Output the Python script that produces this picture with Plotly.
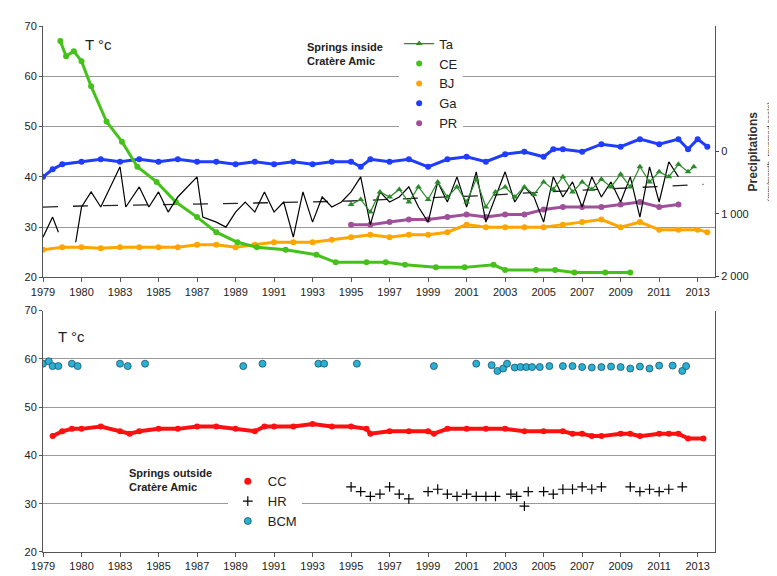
import plotly.graph_objects as go

tick_vals = [1979 + 2 * i for i in range(18)]
tick_text = ["1979", "1980", "1983", "1985", "1987", "1989", "1991", "1993", "1995", "1997",
             "1999", "2001", "2003", "2005", "2007", "2009", "2011", "2013"]

ce_x = [1979.9, 1980.2, 1980.6, 1981.0, 1981.5, 1982.3, 1983.1, 1983.9, 1984.9, 1985.9, 1987.0, 1988.0,
        1989.1, 1990.1, 1991.6, 1993.2, 1994.2, 1995.8, 1996.8, 1997.8, 1999.4, 2000.9, 2002.4,
        2003.0, 2004.6, 2005.6, 2006.6, 2008.2, 2009.5]
ce_y = [67, 64, 65, 63, 58, 51, 47, 42, 39, 35, 32, 29, 27, 26, 25.5, 24.5, 23, 23, 23, 22.5, 22, 22,
        22.5, 21.5, 21.5, 21.5, 21, 21, 21]

ga_x = [1979, 1979.5, 1980, 1981, 1982, 1983, 1984, 1985, 1986, 1987, 1988, 1989, 1990, 1991, 1992,
        1993, 1994, 1995, 1995.5, 1996, 1997, 1998, 1999, 2000, 2001, 2002, 2003, 2004, 2005, 2005.5,
        2006, 2007, 2008, 2009, 2010, 2011, 2012, 2012.5, 2013, 2013.5]
ga_y = [40, 41.5, 42.5, 43, 43.5, 43, 43.5, 43, 43.5, 43, 43, 42.5, 43, 42.5, 43, 42.5, 43, 43, 42,
        43.5, 43, 43.5, 42, 43.5, 44, 43, 44.5, 45, 44, 45.5, 45.5, 45, 46.5, 46, 47.5, 46.5, 47.5,
        45.5, 47.5, 46]

bj_x = [1979, 1980, 1981, 1982, 1983, 1984, 1985, 1986, 1987, 1988, 1989, 1990, 1991, 1992, 1993,
        1994, 1995, 1996, 1997, 1998, 1999, 2000, 2001, 2002, 2003, 2004, 2005, 2006, 2007, 2008,
        2009, 2010, 2011, 2012, 2013, 2013.5]
bj_y = [25.5, 26, 26, 25.8, 26, 26, 26, 26, 26.5, 26.5, 26, 26.5, 27, 27, 27, 27.5, 28, 28.5, 28,
        28.5, 28.5, 29, 30.5, 30, 30, 30, 30, 30.5, 31, 31.5, 30, 31, 29.5, 29.5, 29.5, 29]

pr_x = [1995, 1996, 1997, 1998, 1999, 2000, 2001, 2002, 2003, 2004, 2005, 2006, 2007, 2008, 2009,
        2010, 2011, 2012]
pr_y = [30.5, 30.5, 31, 31.5, 31.5, 32, 32.5, 32, 32.5, 32.5, 33.5, 34, 34, 34, 34.5, 35, 34, 34.5]

ta_x = [1995, 1995.5, 1996, 1996.5, 1997, 1997.5, 1998, 1998.5, 1999, 1999.5, 2000, 2000.5, 2001,
        2001.5, 2002, 2002.5, 2003, 2003.5, 2004, 2004.5, 2005, 2005.5, 2006, 2006.5, 2007, 2007.5,
        2008, 2008.5, 2009, 2009.5, 2010, 2010.5, 2011, 2011.5, 2012, 2012.5, 2012.8]
ta_y = [34.5, 35.5, 33, 37, 36, 37.5, 35, 38, 35.5, 39, 36, 38, 35, 39.5, 34, 37, 38, 36, 38, 36.5,
        39, 37.5, 40, 37, 39, 37.5, 39.5, 38, 40.5, 38, 42, 39, 41, 40, 42.5, 41, 42]

pl_x = [1979, 1979.5, 1979.8, None, 1980.7, 1981, 1981.5, 1982, 1983, 1983.3, 1984, 1984.5, 1985,
        1985.5, 1986, 1987, 1987.3, 1988, 1988.5, 1989, 1989.5, 1990, 1990.5, 1991, 1991.5, 1992,
        1992.5, 1993, 1993.5, 1994, 1994.5, 1995, 1995.5, 1996, 1996.5, 1997, 1997.5, 1998, 1998.5,
        1999, 1999.5, 2000, 2000.5, 2001, 2001.5, 2002, 2002.5, 2003, 2003.5, 2004, 2004.5, 2005,
        2005.5, 2006, 2006.5, 2007, 2007.5, 2008, 2008.5, 2009, 2009.5, 2010, 2010.5, 2011, 2011.5, 2012]
pl_y = [28, 32, 29, None, 27, 34, 37, 34, 42, 34, 38, 34, 37, 33, 36, 40, 32, 31, 30, 33, 35, 33, 37,
        33, 35, 28, 37, 31, 36, 34, 35, 37, 40, 30.5, 37, 35, 36, 38, 34, 31, 39, 35, 40, 34, 41, 31,
        36, 41, 35, 38, 36, 31, 40, 36, 39, 34, 40, 36, 39, 35, 40, 32, 42, 35, 43, 40]

tr_x = [1979, 1981, 1990, 1995, 2000, 2002, 2005, 2008, 2011, 2013.3]
tr_y = [34, 34.2, 34.8, 35.2, 36, 36.3, 37, 37.5, 38, 38.5]

bcm_x = [1979, 1979.3, 1979.5, 1979.8, 1980.5, 1980.8, 1983, 1983.4, 1984.3, 1989.4, 1990.4, 1993.3,
         1993.6, 1995.3, 1999.3, 2001.5, 2002.3, 2002.6, 2002.9, 2003.1, 2003.5, 2003.8, 2004.1,
         2004.4, 2004.8, 2005.3, 2006, 2006.5, 2007, 2007.5, 2008, 2008.5, 2009, 2009.5, 2010,
         2010.5, 2011, 2011.7, 2012.2, 2012.4]
bcm_y = [59, 59.5, 58.5, 58.5, 59, 58.5, 59, 58.5, 59, 58.5, 59, 59, 59, 59, 58.5, 59, 58.7, 57.5,
         58, 59, 58.2, 58.3, 58.3, 58.3, 58.3, 58.5, 58.5, 58.5, 58.3, 58.2, 58.3, 58.4, 58.3, 58,
         58.4, 58, 58.6, 58.6, 57.5, 58.5]

cc_x = [1979.5, 1980, 1980.5, 1981, 1982, 1983, 1983.5, 1984, 1985, 1986, 1987, 1988, 1989, 1990,
        1990.5, 1991, 1992, 1993, 1994, 1995, 1995.8, 1996, 1997, 1998, 1999, 1999.3, 2000, 2001,
        2002, 2003, 2004, 2005, 2006, 2006.5, 2007, 2007.5, 2008, 2009, 2009.5, 2010, 2011, 2011.5,
        2012, 2012.5, 2013.3]
cc_y = [44, 45, 45.5, 45.5, 46, 45, 44.5, 45, 45.5, 45.5, 46, 46, 45.5, 45, 46, 46, 46, 46.5, 46, 46,
        45.5, 44.5, 45, 45, 45, 44.5, 45.5, 45.5, 45.5, 45.5, 45, 45, 45, 44.5, 44.5, 44, 44, 44.5,
        44.5, 44, 44.5, 44.5, 44.5, 43.5, 43.5]

hr_x = [1995.0, 1995.5, 1996, 1996.5, 1997, 1997.5, 1998, 1999, 1999.5, 2000, 2000.5, 2001, 2001.5,
        2002, 2002.5, 2003.3, 2003.6, 2004, 2004.2, 2005, 2005.5, 2006, 2006.5, 2007, 2007.5, 2008,
        2009.5, 2010, 2010.5, 2011, 2011.5, 2012.2]
hr_y = [33.5, 32.5, 31.5, 32, 33.5, 32, 31, 32.5, 33, 32, 31.5, 32, 31.5, 31.5, 31.5, 32, 31.5, 29.5,
        32.5, 32.5, 32, 33, 33, 33.5, 33, 33.5, 33.5, 32.5, 33, 32.5, 33, 33.5]

F = "Liberation Sans Narrow, Liberation Sans, Arial"
fig = go.Figure()

def band(x, y, color, lw=3, ax="x", ay="y"):
    fig.add_trace(go.Scatter(x=x, y=y, mode="lines+markers", showlegend=False,
                             xaxis=ax, yaxis=ay, line=dict(color=color, width=lw),
                             marker=dict(color=color, size=6)))

fig.add_trace(go.Scatter(x=tr_x, y=tr_y, mode="lines", line=dict(color="#222", width=1.3, dash="longdash"),
                         showlegend=False))
band(ga_x, ga_y, "#1f3cff")
band(bj_x, bj_y, "#ffa500")
band(pr_x, pr_y, "#a0509a")
band(ce_x, ce_y, "#44c21a")
fig.add_trace(go.Scatter(x=pl_x, y=pl_y, mode="lines", line=dict(color="black", width=1.2),
                         showlegend=False))
fig.add_trace(go.Scatter(x=ta_x, y=ta_y, mode="lines+markers", name="Ta", legend="legend",
                         line=dict(color="#2a8a2a", width=1.2),
                         marker=dict(color="#2a8a2a", size=6, symbol="triangle-up")))
for nm, col in [("CE", "#44c21a"), ("BJ", "#ffa500"), ("Ga", "#1f3cff"), ("PR", "#a0509a")]:
    fig.add_trace(go.Scatter(x=[None], y=[None], mode="markers", name=nm, legend="legend",
                             marker=dict(color=col, size=6)))
fig.add_trace(go.Scatter(x=[None], y=[None], yaxis="y3", showlegend=False))

band(cc_x, cc_y, "#ff1010", lw=4, ax="x2", ay="y2")
fig.add_trace(go.Scatter(x=[None], y=[None], mode="markers", name="CC", legend="legend2",
                         xaxis="x2", yaxis="y2", marker=dict(color="#ff1010", size=7)))
fig.add_trace(go.Scatter(x=hr_x, y=hr_y, mode="markers", name="HR", legend="legend2",
                         xaxis="x2", yaxis="y2", marker=dict(color="black", size=7, symbol="cross-thin",
                                                             line=dict(color="black", width=1.2))))
fig.add_trace(go.Scatter(x=bcm_x, y=bcm_y, mode="markers", name="BCM", legend="legend2",
                         xaxis="x2", yaxis="y2", marker=dict(color="#2ab0d0", size=7,
                                                             line=dict(color="#1a5070", width=0.8))))

ax_common = dict(range=[1979, 2013.9], tickvals=tick_vals, ticktext=tick_text, showgrid=False,
                 showline=True, linecolor="#555", ticks="outside", ticklen=4, tickcolor="#555",
                 tickfont=dict(size=11, family=F, color="#222"), zeroline=False)
ay_common = dict(range=[20, 70], dtick=10, showgrid=True, gridcolor="#999", gridwidth=1,
                 showline=True, linecolor="#555", ticks="outside", ticklen=3, tickcolor="#555",
                 tickfont=dict(size=11, family=F, color="#222"), zeroline=False, mirror=True)

fig.update_layout(
    width=777, height=576, paper_bgcolor="white", plot_bgcolor="white",
    margin=dict(l=35, r=69, t=18, b=24),
    xaxis=dict(**ax_common, anchor="y"),
    yaxis=dict(**ay_common, domain=[0.522, 1.0]),
    yaxis3=dict(overlaying="y", side="right", range=[2015, -2000], tickvals=[0, 1000, 2000],
                ticktext=["0", "1 000", "2 000"], showgrid=False, zeroline=False, ticks="outside",
                ticklen=3, tickfont=dict(size=11, family=F, color="#222"),
                title=dict(text="<b>Precipitations</b><br><span style='font-size:8px'>(mm/month, reversed scale)</span>",
                           font=dict(size=12, family="Liberation Sans", color="#333"), standoff=0)),
    xaxis2=dict(**ax_common, anchor="y2"),
    yaxis2=dict(**ay_common, domain=[0, 0.459], anchor="x2"),
    legend=dict(x=0.53, y=0.995, xanchor="left", yanchor="top", bgcolor="white",
                font=dict(size=13, family=F, color="#222"), itemwidth=30, tracegroupgap=0,
                traceorder="normal"),
    legend2=dict(x=0.275, y=0.163, xanchor="left", yanchor="top", bgcolor="white",
                 font=dict(size=13, family=F, color="#222"), itemwidth=30, tracegroupgap=0),
    annotations=[
        dict(text="T °c", x=0.06, y=0.985, xref="paper", yref="paper", showarrow=False,
             xanchor="left", yanchor="top", font=dict(size=15, family=F, color="#222")),
        dict(text="T °c", x=0.02, y=0.43, xref="paper", yref="paper", showarrow=False,
             xanchor="left", yanchor="top", font=dict(size=15, family=F, color="#222")),
        dict(text="<b>Springs inside<br>Cratère Amic</b>", x=0.39, y=0.975, xref="paper", yref="paper",
             showarrow=False, xanchor="left", yanchor="top", align="left", bgcolor="white",
             font=dict(size=11, family=F, color="#222")),
        dict(text="<b>Springs outside<br>Cratère Amic</b>", x=0.125, y=0.165, xref="paper", yref="paper",
             showarrow=False, xanchor="left", yanchor="top", align="left", bgcolor="white",
             font=dict(size=11, family=F, color="#222")),
    ],
)
fig.write_html("out.html")
